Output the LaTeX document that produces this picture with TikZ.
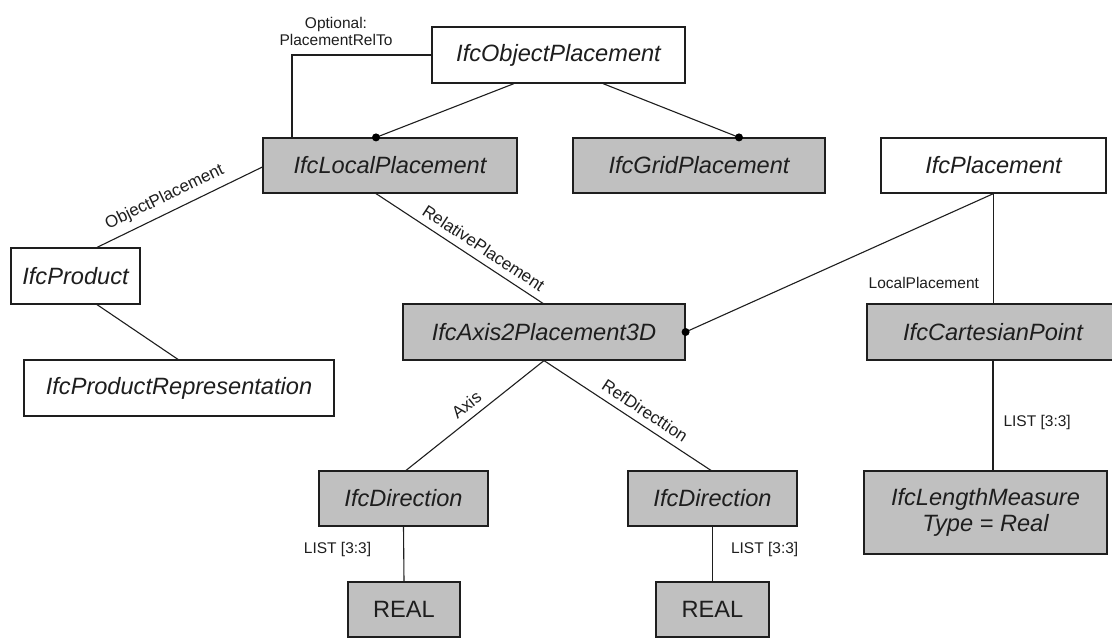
\documentclass[tikz,border=0pt]{standalone}
\usepackage{fontspec}
\setmainfont{Liberation Sans}
\usetikzlibrary{calc}
\definecolor{boxgray}{RGB}{192,192,192}
\definecolor{ink}{RGB}{30,30,30}
\begin{document}
\begin{tikzpicture}[x=1pt,y=-1pt,
  ent/.style={draw=ink, line width=1.2pt, inner sep=0pt, font=\fontsize{23.6}{26}\selectfont\itshape, text=ink, align=center, minimum height=55pt},
  wbox/.style={ent, fill=white},
  gbox/.style={ent, fill=boxgray},
  conn/.style={draw=ink, line width=1.1pt},
  lbl/.style={font=\fontsize{15.5}{17}\selectfont, text=ink, inner sep=2pt},
  slbl/.style={font=\fontsize{17}{19}\selectfont, text=ink, inner sep=2pt, sloped, above=5pt},
  dot/.style={circle, fill=black, inner sep=0pt, minimum size=8pt},
]
\useasboundingbox[fill=white] (0,0) rectangle (1112,638);

\node[wbox, minimum width=253pt, minimum height=56pt] (op) at (558.5,55) {IfcObjectPlacement};
\node[gbox, minimum width=254pt] (lp) at (390,165.5) {IfcLocalPlacement};
\node[gbox, minimum width=252pt] (gp) at (699,165.5) {IfcGridPlacement};
\node[wbox, minimum width=225pt] (pl) at (993.5,165.5) {IfcPlacement};
\node[wbox, minimum width=129pt, minimum height=56pt] (pr) at (75.5,276) {IfcProduct};
\node[wbox, minimum width=310pt, minimum height=56pt] (prr) at (179,388) {IfcProductRepresentation};
\node[gbox, minimum width=282pt, minimum height=56pt] (ax) at (544,332) {IfcAxis2Placement3D};
\node[gbox, minimum width=252pt, minimum height=56pt] (cp) at (993,332) {IfcCartesianPoint};
\node[gbox, minimum width=243pt, minimum height=83pt] (lm) at (985.5,512.5) {IfcLengthMeasure\\Type = Real};
\node[gbox, minimum width=169pt] (d1) at (403.5,498.5) {IfcDirection};
\node[gbox, minimum width=169pt] (d2) at (712.5,498.5) {IfcDirection};
\node[gbox, minimum width=112pt, font=\fontsize{23.6}{26}\selectfont\upshape] (r1) at (404,609.5) {REAL};
\node[gbox, minimum width=113pt, font=\fontsize{23.6}{26}\selectfont\upshape] (r2) at (712.5,609.5) {REAL};

\node[lbl, align=center] (optlbl) at (336,31) {Optional:\\PlacementRelTo};

\draw[conn] ([xshift=-98pt]lp.north) |- (op.west);
\draw[conn] ([xshift=-44.5pt]op.south) -- ([xshift=-14pt]lp.north) node[dot]{};
\draw[conn] ([xshift=44.5pt]op.south) -- ([xshift=40pt]gp.north) node[dot]{};
\draw[conn] ([yshift=-1.5pt]lp.west) -- ([xshift=21.5pt]pr.north) node[slbl, pos=0.55]{ObjectPlacement};
\draw[conn] ([xshift=21.5pt]pr.south) -- ([xshift=-1pt]prr.north);
\draw[conn] ([xshift=-14pt]lp.south) -- ([xshift=-1pt]ax.north) node[slbl, pos=0.6]{RelativePlacement};
\draw[conn] (pl.south) -- (ax.east) node[dot]{};
\draw[conn] (pl.south) -- (pl.south |- cp.north) node[lbl, pos=0.81, left=12pt]{LocalPlacement};
\draw[conn] (ax.south) -- ([xshift=2.5pt]d1.north) node[slbl, pos=0.5]{Axis};
\draw[conn] (ax.south) -- ([xshift=-1.5pt]d2.north) node[slbl, pos=0.56]{RefDirecttion};
\draw[conn] (d1.south) -- (r1.north) node[lbl, pos=0.41, left=30pt]{LIST [3:3]};
\draw[conn] (d2.south) -- (d2.south |- r2.north) node[lbl, pos=0.41, right=16pt]{LIST [3:3]};
\draw[conn] (cp.south) -- (cp.south |- lm.north) node[lbl, pos=0.56, right=8pt]{LIST [3:3]};
\end{tikzpicture}
\end{document}
